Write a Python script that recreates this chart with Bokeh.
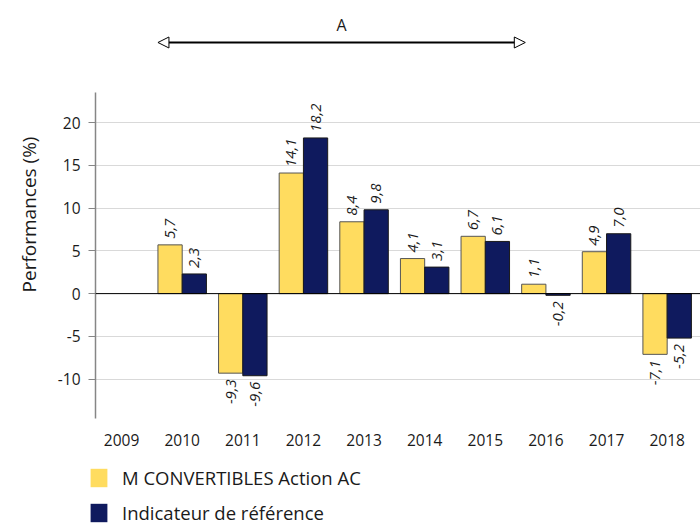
from math import pi
from bokeh.plotting import figure
from bokeh.core.properties import value
from bokeh.models import (Range1d, FixedTicker, Span, Arrow, NormalHead, Label,
                          Legend, LegendItem, ColumnDataSource)
from bokeh.embed import file_html
from bokeh.resources import INLINE

# ---- data ----
years = [2009, 2010, 2011, 2012, 2013, 2014, 2015, 2016, 2017, 2018]
fund = [None, 5.7, -9.3, 14.1, 8.4, 4.1, 6.7, 1.1, 4.9, -7.1]
index = [None, 2.3, -9.6, 18.2, 9.8, 3.1, 6.1, -0.2, 7.0, -5.2]
series_names = ["M CONVERTIBLES Action AC", "Indicateur de référence"]
y_ticks = [-10, -5, 0, 5, 10, 15, 20]
period_label = "A"
period = [2009.6, 2015.66]

YELLOW = "#FFDC5F"
NAVY = "#0F1A5E"
FONT = "Open Sans"
TXT = "#1a1a1a"

p = figure(width=700, height=460, output_backend="svg", toolbar_location=None,
           x_range=Range1d(2008.57, 2018.55), y_range=Range1d(-14.6, 33.1),
           min_border_left=95, min_border_right=0, min_border_top=10,
           min_border_bottom=42)
p.outline_line_color = None
p.background_fill_color = "white"
p.border_fill_color = "white"

def fmt(v):
    return f"{v:.1f}".replace(".", ",")

off = 0.2
bw = 0.4
for vals, dx, col, lc in [(fund, -off, YELLOW, "#555555"), (index, off, NAVY, "#1a1a1a")]:
    xs = [y + dx for y, v in zip(years, vals) if v is not None]
    vs = [v for v in vals if v is not None]
    src = ColumnDataSource(dict(x=xs, top=vs))
    p.vbar(x="x", top="top", bottom=0, width=bw, source=src,
           fill_color=col, line_color=lc, line_width=1)
    pos = ColumnDataSource(dict(x=[a for a, v in zip(xs, vs) if v >= 0],
                                y=[v for v in vs if v >= 0],
                                t=[fmt(v) for v in vs if v >= 0]))
    neg = ColumnDataSource(dict(x=[a for a, v in zip(xs, vs) if v < 0],
                                y=[v for v in vs if v < 0],
                                t=[fmt(v) for v in vs if v < 0]))
    for s, al, yo in [(pos, "left", -6), (neg, "right", 6)]:
        p.text(x="x", y="y", text="t", source=s, angle=pi / 2, text_align=al,
               text_baseline="middle", y_offset=yo, text_font=value(FONT),
               text_font_size="15px", text_font_style="italic", text_color=TXT)

# zero line
p.add_layout(Span(location=0, dimension="width", line_color="black", line_width=1))

# grid
p.xgrid.visible = False
p.ygrid.ticker = FixedTicker(ticks=y_ticks)
p.ygrid.grid_line_color = "#D9D9D9"
p.ygrid.grid_line_width = 1

# y axis
ya = p.yaxis[0]
ya.ticker = FixedTicker(ticks=y_ticks)
ya.major_label_overrides = {t: str(t) for t in y_ticks}
ya.bounds = (-14.6, 23.5)
ya.axis_line_color = "#868686"
ya.axis_line_width = 1.5
ya.major_tick_line_color = "#868686"
ya.major_tick_out = 7
ya.major_tick_in = 0
ya.minor_tick_out = 0
ya.minor_tick_in = 0
ya.major_label_standoff = 8
ya.major_label_text_font = FONT
ya.major_label_text_font_size = "15.5px"
ya.major_label_text_color = TXT
ya.axis_label = "Performances (%)"
ya.axis_label_text_font = FONT
ya.axis_label_text_font_size = "19px"
ya.axis_label_text_font_style = "normal"
ya.axis_label_text_color = TXT
ya.axis_label_standoff = 13

# x axis
xa = p.xaxis[0]
xa.ticker = FixedTicker(ticks=years)
xa.major_label_overrides = {y: str(y) for y in years}
xa.axis_line_color = None
xa.major_tick_line_color = None
xa.minor_tick_line_color = None
xa.major_tick_out = 0
xa.major_label_standoff = 15
xa.major_label_text_font = FONT
xa.major_label_text_font_size = "15.5px"
xa.major_label_text_color = TXT

# period arrow
head = dict(size=11, fill_color="white", line_color="black", line_width=1)
p.add_layout(Arrow(x_start=period[0], y_start=29.36, x_end=period[1], y_end=29.36,
                   line_color="black", line_width=2,
                   start=NormalHead(**head), end=NormalHead(**head)))
p.add_layout(Label(x=(period[0] + period[1]) / 2, y=31.4, text=period_label,
                   text_align="center", text_baseline="middle", text_font=FONT,
                   text_font_size="16px", text_color=TXT))

# legend figure
p2 = figure(width=700, height=65, output_backend="svg", toolbar_location=None,
            x_axis_type=None, y_axis_type=None, x_range=Range1d(0, 1),
            y_range=Range1d(0, 1), min_border_left=0, min_border_right=0,
            min_border_top=0, min_border_bottom=0)
p2.outline_line_color = None
p2.xgrid.visible = False
p2.ygrid.visible = False
r1 = p2.vbar(x=[5], top=[5], bottom=[4], width=0.1, fill_color=YELLOW, line_color=None)
r2 = p2.vbar(x=[5], top=[5], bottom=[4], width=0.1, fill_color=NAVY, line_color=None)
legend = Legend(items=[LegendItem(label=series_names[0], renderers=[r1]),
                       LegendItem(label=series_names[1], renderers=[r2])],
                location=(88, 0), orientation="vertical",
                glyph_width=21, glyph_height=23, spacing=10, padding=0, margin=0,
                label_standoff=13, label_text_font=FONT, label_text_font_size="18.5px",
                label_text_color=TXT, border_line_color=None,
                background_fill_alpha=0)
p2.add_layout(legend, "center")

open("out.html", "w").write(file_html([p, p2], INLINE))
